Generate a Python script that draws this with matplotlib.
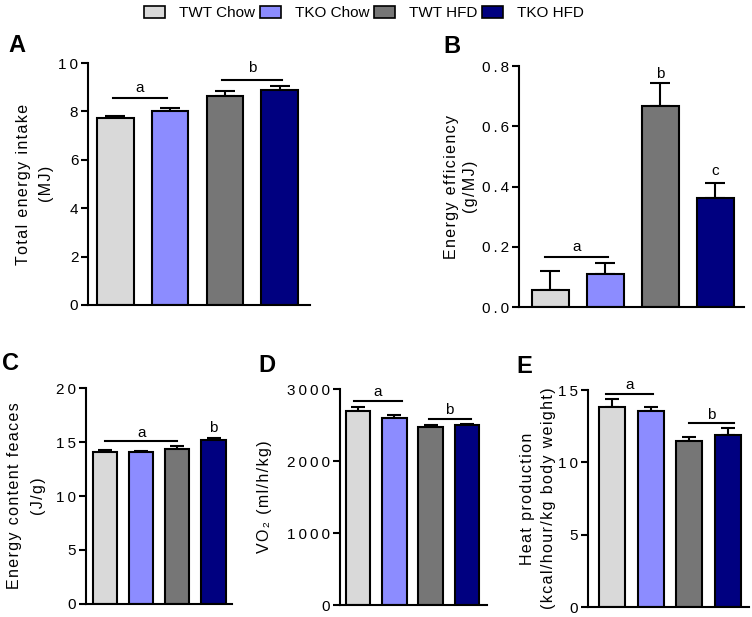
import matplotlib.pyplot as plt
import numpy as np

plt.rcParams['font.family'] = ['Liberation Sans', 'DejaVu Sans']

groups = ["TWT Chow", "TKO Chow", "TWT HFD", "TKO HFD"]
colors = ["#d9d9d9", "#8c8cff", "#767676", "#000080"]

# === values (mean, upper error) ===
intake = [7.75, 8.02, 8.63, 8.88]
intake_err = [0.08, 0.13, 0.22, 0.18]
efficiency = [0.055, 0.111, 0.667, 0.363]
efficiency_err = [0.065, 0.035, 0.078, 0.05]
feces = [14.05, 14.05, 14.36, 15.16]
feces_err = [0.25, 0.13, 0.28, 0.22]
vo2 = [2700, 2603, 2478, 2501]
vo2_err = [46, 41, 19, 10]
heat = [13.84, 13.56, 11.48, 11.88]
heat_err = [0.51, 0.28, 0.26, 0.5]


def spaced(s, sep="\u200a"):
    # Prism style letter spacing
    return "\n".join(sep.join(line) for line in s.split("\n"))


fig = plt.figure(figsize=(7.52, 6.17), dpi=100)

panels = [
    # letter, rect, values, errs, ymax, yticks, ylabel, xlim, capsize, letter pos, label x, linespacing
    ("A", [0.117, 0.5057, 0.295, 0.392], intake, intake_err, 10, [0, 2, 4, 6, 8, 10],
     "Total energy intake\n(MJ)", (-0.5, 3.55), 7, (0.011, 0.9157), -0.239, 1.7),
    ("B", [0.690, 0.5024, 0.299, 0.3906], efficiency, efficiency_err, 0.8, [0.0, 0.2, 0.4, 0.6, 0.8],
     "Energy efficiency\n(g/MJ)", (-0.57, 3.52), 7, (0.589, 0.914), -0.258, 1.3),
    ("C", [0.1144, 0.0211, 0.194, 0.350], feces, feces_err, 20, [0, 5, 10, 15, 20],
     "Energy content feaces\n(J/g)", (-0.53, 3.51), 5, (0.003, 0.4003), -0.41, 1.75),
    ("D", [0.452, 0.0194, 0.1955, 0.350], vo2, vo2_err, 3000, [0, 1000, 2000, 3000],
     "VO\u2082 (ml/h/kg)", (-0.5, 3.55), 5, (0.343, 0.397), -0.51, 1.2),
    ("E", [0.782, 0.0162, 0.214, 0.3517], heat, heat_err, 15, [0, 5, 10, 15],
     "Heat production\n(kcal/hour/kg body weight)", (-0.62, 3.54), 5, (0.687, 0.3955), -0.31, 1.45),
]

# significance bars: (x0, x1, y, label, label y)
sig = {
    "A": [(-0.05, 0.95, 8.54, "a", 8.96), (1.95, 3.05, 9.32, "b", 9.8)],
    "B": [(-0.1, 1.05, 0.165, "a", 0.2)],
    "C": [(0.0, 2.0, 15.07, "a", 15.8)],
    "D": [(-0.12, 1.2, 2829, "a", 2954), (1.95, 3.1, 2585, "b", 2709)],
    "E": [(-0.15, 1.05, 14.72, "a", 15.35), (2.0, 3.15, 12.73, "b", 13.3)],
}
single = {
    "B": [(2, 0.773, "b"), (3, 0.45, "c")],
    "C": [(3, 16.3, "b")],
}

x = np.arange(len(groups))
for letter, rect, vals, errs, ymax, yticks, ylabel, xlim, cap, lpos, lab_x, lsp in panels:
    ax = fig.add_axes(rect)
    ax.bar(x, vals, width=0.67, color=colors, edgecolor="black", linewidth=1.5, zorder=2)
    ax.errorbar(x, vals, yerr=[np.zeros(len(vals)), errs], fmt="none", ecolor="black",
                elinewidth=1.5, capsize=cap, capthick=1.5, zorder=1)
    ax.set_xlim(*xlim)
    ax.set_ylim(0, ymax)
    ax.set_yticks(yticks)
    if letter == "B":
        ax.set_yticklabels([spaced(f"{t:.1f}", "\u2009") for t in yticks])
    else:
        ax.set_yticklabels([spaced(str(int(t)), "\u2009") for t in yticks])
    ax.set_xticks([])
    ax.spines[["top", "right"]].set_visible(False)
    ax.spines[["left", "bottom"]].set_linewidth(1.5)
    ax.tick_params(axis="y", width=1.5, length=5, pad=2, labelsize=11)
    ax.text(lab_x, 0.5, spaced(ylabel), rotation=90, ha="center", va="center",
            fontsize=11.5, linespacing=lsp, transform=ax.transAxes)
    for x0, x1, y, lab, ty in sig.get(letter, []):
        ax.plot([x0, x1], [y, y], color="black", lw=1.5, clip_on=False)
        ax.text((x0 + x1) / 2, ty, lab, ha="center", va="center", fontsize=11)
    for xi, ty, lab in single.get(letter, []):
        ax.text(xi, ty, lab, ha="center", va="center", fontsize=11)
    fig.text(lpos[0], lpos[1], letter, fontsize=17, fontweight="bold", va="baseline")

handles = [plt.Rectangle((0, 0), 1, 1, facecolor=c, edgecolor="black", linewidth=1.2) for c in colors]
fig.legend(handles, groups, loc="center", bbox_to_anchor=(0.484, 0.979), ncol=4,
           frameon=False, fontsize=11, handlelength=1.4, handleheight=0.8,
           columnspacing=0.3, handletextpad=0.9)

plt.savefig("out.png", dpi=100)
